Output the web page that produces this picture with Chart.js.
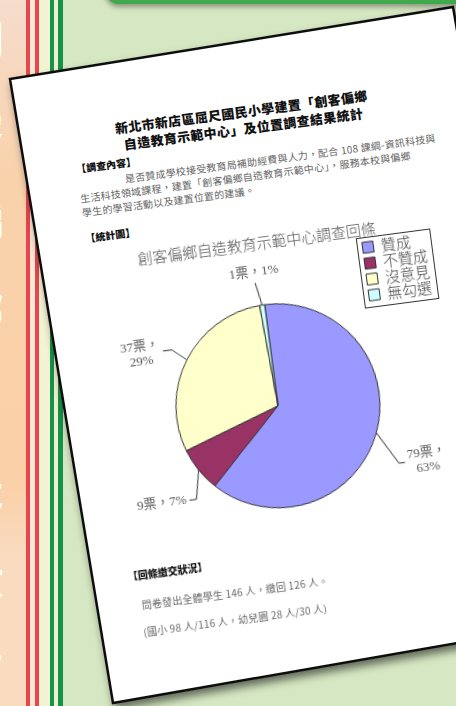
<!DOCTYPE html>
<html lang="zh-Hant">
<head>
<meta charset="utf-8">
<script src="https://cdn.jsdelivr.net/npm/chart.js@4.4.1/dist/chart.umd.min.js"></script>
<style>
  html, body { margin: 0; padding: 0; }
  body {
    width: 456px; height: 706px; overflow: hidden; position: relative;
    background: #d6e7c3;
    font-family: 'Noto Sans CJK TC', 'Noto Sans', sans-serif;
  }
  .stripes {
    position: absolute; left: 0; top: 0; width: 64px; height: 706px;
    background: linear-gradient(to right,
      transparent 0 26px, #e8454f 26px 30px, #f6e9d6 30px 35px, #e8454f 35px 39px,
      #f3f4d3 39px 50px, #16924a 50px 54px, #eef2d0 54px 58px, #16924a 58px 63px, transparent 63px);
  }
  .peach {
    position: absolute; left: 0; top: 0; width: 26px; height: 706px;
    background: linear-gradient(to bottom, #f5dccb 0, #f9d2ac 180px, #fad0a7 480px, #f9dbc0 560px, #f9dbc0 706px);
  }
  .glyphs {
    position: absolute; left: -36px; top: -6px; color: #fff; font-weight: 900;
    font-size: 38px; line-height: 90px; width: 40px; text-align: center;
  }
  .banner {
    position: absolute; left: 105px; top: -30px; width: 420px; height: 34px;
    background: #3fa94b; border-radius: 14px; box-shadow: 0 3px 5px rgba(0,0,0,.35);
  }
  svg.page { position: absolute; left: 0; top: 0; }
  .content {
    position: absolute; left: 10px; top: 79px; width: 450px; height: 640px;
    transform-origin: 0 0; transform: rotate(-7.5deg);
  }
  .content > div { position: absolute; white-space: nowrap; }
  .head {
    left: 0; top: 53.5px; width: 450px; text-align: center;
    font-size: 13px; line-height: 17px; font-weight: 900; letter-spacing: .4px; color: #111;
  }
  .tag { font-size: 10px; line-height: 14px; font-weight: 900; color: #111; }
  .body { font-size: 10px; line-height: 14px; color: #666; letter-spacing: .25px; }
  canvas { position: absolute; left: 40px; top: 186px; }
</style>
</head>
<body>
<div class="peach"></div>
<div class="stripes"></div>
<div class="glyphs">創<br>客<br>偏<br>鄉<br>自<br>造<br>教<br>育</div>
<div class="banner"></div>
<svg class="page" width="456" height="706">
  <defs>
    <filter id="sh" x="-10%" y="-10%" width="130%" height="130%">
      <feDropShadow dx="3" dy="5" stdDeviation="4" flood-color="#000" flood-opacity=".55"/>
    </filter>
  </defs>
  <polygon points="10,79 453,7 560,625 113,703" fill="#fff" stroke="#111" stroke-width="2.5" filter="url(#sh)"/>
</svg>

<div class="content">
  <div class="head">新北市新店區屈尺國民小學建置「創客偏鄉<br>自造教育示範中心」及位置調查結果統計</div>
  <div class="tag" style="left:54px; top:91px;">【調查內容】</div>
  <div class="body" style="left:54px; top:107px;">
    <div style="padding-left:47px;">是否贊成學校接受教育局補助經費與人力，配合 108 課綱-資訊科技與</div>
    <div>生活科技領域課程，建置「創客偏鄉自造教育示範中心」，服務本校與偏鄉</div>
    <div>學生的學習活動以及建置位置的建議。</div>
  </div>
  <div class="tag" style="left:54px; top:161px;">【統計圖】</div>
  <canvas id="pie" width="366" height="328"></canvas>
  <div class="tag" style="left:52px; top:502px;">【回條繳交狀況】</div>
  <div class="body" style="left:62px; top:532px;">問卷發出全體學生 146 人，繳回 126 人。</div>
  <div class="body" style="left:60px; top:559px;">(國小 98 人/116 人，幼兒園 28 人/30 人)</div>
</div>

<script>
// 調查回條資料
const CHART_TITLE = '創客偏鄉自造教育示範中心調查回條';
const CATEGORIES = ['贊成', '不贊成', '沒意見', '無勾選'];
const VOTES = [79, 9, 37, 1];
const SLICE_COLORS = ['#9999ff', '#993366', '#ffffcc', '#ccffff'];

// 標籤引線：角度偏移(度)、伸出長度、方向、水平尾段、是否分兩行
const LEADERS = [
  {shift: 10, ext: 32, side: 'right', tail: 6, split: true},
  {shift: -10, ext: 22, side: 'left', tail: 7, split: false},
  {shift: 1, ext: 18, side: 'left', tail: 9, split: true},
  {shift: -1.6, ext: 23, side: 'top', tail: 0, split: false}
];

const leaderLabels = {
  id: 'leaderLabels',
  afterDatasetsDraw(chart, args, opts) {
    const {ctx} = chart;
    const data = chart.data.datasets[0].data;
    const total = data.reduce((a, b) => a + b, 0);
    const lh = opts.lineHeight;
    ctx.save();
    ctx.font = opts.font;
    ctx.fillStyle = opts.color;
    ctx.strokeStyle = opts.lineColor;
    ctx.lineWidth = 1;
    chart.getDatasetMeta(0).data.forEach((arc, i) => {
      const {x, y, startAngle, endAngle, outerRadius} =
        arc.getProps(['x', 'y', 'startAngle', 'endAngle', 'outerRadius'], true);
      const L = opts.leaders[i];
      const mid = (startAngle + endAngle) / 2;
      const a = mid + L.shift * Math.PI / 180;
      const p0 = [x + Math.cos(mid) * outerRadius, y + Math.sin(mid) * outerRadius];
      const p1 = [x + Math.cos(a) * (outerRadius + L.ext), y + Math.sin(a) * (outerRadius + L.ext)];
      const dir = L.side === 'left' ? -1 : L.side === 'right' ? 1 : 0;
      const p2 = [p1[0] + dir * L.tail, p1[1]];
      ctx.beginPath();
      ctx.moveTo(p0[0], p0[1]);
      ctx.lineTo(p1[0], p1[1]);
      ctx.lineTo(p2[0], p2[1]);
      ctx.stroke();

      const pct = Math.round(data[i] / total * 100);
      const lines = L.split ? [data[i] + '票，', pct + '%'] : [data[i] + '票，' + pct + '%'];
      const w = Math.max(...lines.map(t => ctx.measureText(t).width));
      let cx, cy;
      if (dir === 0) {
        cx = p2[0];
        cy = p2[1] - 3 - lh * lines.length / 2;
      } else {
        cx = p2[0] + dir * (3 + w / 2);
        cy = p2[1];
      }
      ctx.textAlign = 'center';
      ctx.textBaseline = 'middle';
      lines.forEach((t, k) => ctx.fillText(t, cx, cy + (k - (lines.length - 1) / 2) * lh));
    });
    ctx.restore();
  }
};

// 圖例移到右上角並加外框
const legendFrame = {
  id: 'legendFrame',
  afterLayout(chart, args, opts) {
    const lg = chart.legend;
    const col = lg.columnSizes[0];
    const bw = col.width + 10, bh = col.height + 6;
    const bx = chart.width - opts.right - bw, by = opts.top;
    lg.left = bx + 4; lg.top = by + 2;
    lg.right = lg.left + col.width + 2; lg.bottom = lg.top + col.height + 2;
    this._box = {bx, by, bw, bh};
  },
  afterDraw(chart, args, opts) {
    const {bx, by, bw, bh} = this._box;
    const ctx = chart.ctx;
    ctx.save();
    ctx.strokeStyle = opts.color;
    ctx.lineWidth = 1;
    ctx.strokeRect(Math.round(bx) + .5, Math.round(by) + .5, Math.round(bw), Math.round(bh));
    ctx.restore();
  }
};

new Chart(document.getElementById('pie'), {
  type: 'pie',
  data: {
    labels: CATEGORIES,
    datasets: [{
      data: VOTES,
      backgroundColor: SLICE_COLORS,
      borderColor: '#333',
      borderWidth: 1
    }]
  },
  plugins: [leaderLabels, legendFrame],
  options: {
    responsive: false,
    animation: false,
    events: [],
    radius: 102,
    layout: {padding: 0},
    plugins: {
      title: {
        display: true,
        text: CHART_TITLE,
        color: '#555',
        padding: {top: 0, bottom: 0},
        font: {size: 15, weight: 300, family: "'Noto Sans CJK TC', sans-serif", lineHeight: 1.2}
      },
      legend: {
        position: 'chartArea',
        align: 'start',
        labels: {
          boxWidth: 11,
          boxHeight: 11,
          padding: 1,
          color: '#444',
          font: {size: 15, weight: 300, family: "'Noto Sans CJK TC', sans-serif"}
        }
      },
      tooltip: {enabled: false},
      leaderLabels: {
        leaders: LEADERS,
        font: "13px 'Liberation Serif', 'Noto Sans CJK TC', serif",
        lineHeight: 15,
        color: '#555',
        lineColor: '#333'
      },
      legendFrame: {right: 10, top: 17, color: '#333'}
    }
  }
});
</script>
</body>
</html>
